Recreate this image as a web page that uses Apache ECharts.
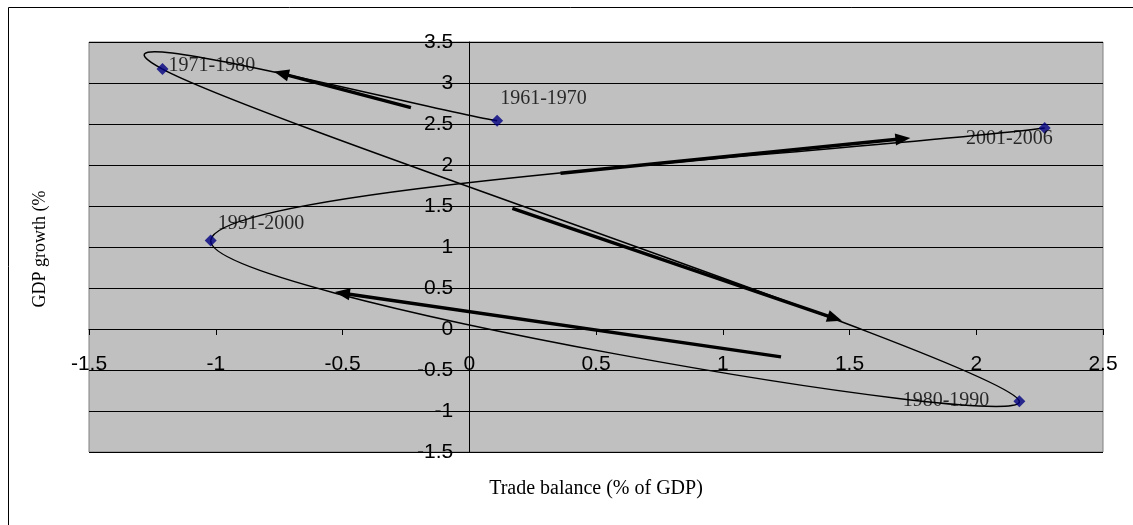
<!DOCTYPE html>
<html>
<head>
<meta charset="utf-8">
<script src="https://cdn.jsdelivr.net/npm/echarts@6/dist/echarts.min.js"></script>
<style>
  html, body { margin: 0; padding: 0; background: #fff; }
  #chart { width: 1133px; height: 525px; }
</style>
</head>
<body>
<div id="chart"></div>
<script>
// Decade averages: trade balance (% of GDP) against GDP growth (%)
const periods = ['1961-1970', '1971-1980', '1980-1990', '1991-2000', '2001-2006'];
const tradeBalance = [0.11, -1.21, 2.17, -1.02, 2.27];
const gdpGrowth = [2.54, 3.17, -0.88, 1.08, 2.45];

// Direction arrows drawn along the path (tail -> head), in axis units
const arrowTailX = [-0.23, 0.36, 0.17, 1.23];
const arrowTailY = [2.70, 1.90, 1.47, -0.34];
const arrowHeadX = [-0.77, 1.74, 1.47, -0.53];
const arrowHeadY = [3.14, 2.33, 0.10, 0.45];

// Axis ticks
const xTicks = [-1.5, -1, -0.5, 0, 0.5, 1, 1.5, 2, 2.5];
const yTicks = [-1.5, -1, -0.5, 0, 0.5, 1, 1.5, 2, 2.5, 3, 3.5];

// Where each period label sits relative to its marker
const labelSide = ['right', 'right', 'left', 'right', 'left'];
const labelShift = [[-8, -22], [-5, -3], [-19, 0], [-4, -17], [19, 11]];

const SERIF = "'Liberation Serif', 'Times New Roman', serif";
const SANS = "'Liberation Sans', Arial, sans-serif";
const TENSION = 0.2;

const W = 1133, H = 525;
const GRID = { left: 89, right: 30, top: 42, bottom: 73 };
const xMin = xTicks[0], xMax = xTicks[xTicks.length - 1];
const yMin = yTicks[0], yMax = yTicks[yTicks.length - 1];
// Both axes cross at zero, so shift each axis (line, ticks and labels) onto the other's zero
const gridW = W - GRID.left - GRID.right;
const gridH = H - GRID.top - GRID.bottom;
const xAxisShift = -gridH * (0 - yMin) / (yMax - yMin);
const yAxisShift = -gridW * (0 - xMin) / (xMax - xMin);

const points = tradeBalance.map((x, i) => [x, gdpGrowth[i]]);
const arrows = arrowTailX.map((x, i) => [x, arrowTailY[i], arrowHeadX[i], arrowHeadY[i]]);

// Smoothed path through the decades in order (cubic Bezier segments)
function renderCurve(params, api) {
  const i = params.dataIndex;
  const n = points.length;
  if (i >= n - 1) return null;
  const pt = k => api.coord(points[Math.max(0, Math.min(n - 1, k))]);
  const p0 = pt(i - 1), p1 = pt(i), p2 = pt(i + 1), p3 = pt(i + 2);
  return {
    type: 'bezierCurve',
    shape: {
      x1: p1[0], y1: p1[1], x2: p2[0], y2: p2[1],
      cpx1: p1[0] + (p2[0] - p0[0]) * TENSION,
      cpy1: p1[1] + (p2[1] - p0[1]) * TENSION,
      cpx2: p2[0] - (p3[0] - p1[0]) * TENSION,
      cpy2: p2[1] - (p3[1] - p1[1]) * TENSION
    },
    style: { stroke: '#000', fill: 'none', lineWidth: 1.5 }
  };
}

// Thick arrow with a solid triangular head
function renderArrow(params, api) {
  const a = api.coord([api.value(0), api.value(1)]);
  const b = api.coord([api.value(2), api.value(3)]);
  const dx = b[0] - a[0], dy = b[1] - a[1];
  const len = Math.hypot(dx, dy);
  const ux = dx / len, uy = dy / len;
  const HEAD = 15, HALF = 6;
  const bx = b[0] - ux * HEAD, by = b[1] - uy * HEAD;
  return {
    type: 'group',
    children: [
      {
        type: 'line',
        shape: { x1: a[0], y1: a[1], x2: bx + ux * 2, y2: by + uy * 2 },
        style: { stroke: '#000', lineWidth: 3.4 }
      },
      {
        type: 'polygon',
        shape: { points: [[b[0], b[1]], [bx - uy * HALF, by + ux * HALF], [bx + uy * HALF, by - ux * HALF]] },
        style: { fill: '#000' }
      }
    ]
  };
}

const chart = echarts.init(document.getElementById('chart'), null, { renderer: 'canvas' });

chart.setOption({
  animation: false,
  backgroundColor: '#fff',
  grid: Object.assign({
    show: true, backgroundColor: '#c0c0c0', borderColor: '#808080', borderWidth: 1
  }, GRID),
  xAxis: {
    type: 'value',
    min: xMin, max: xMax, interval: xTicks[1] - xTicks[0],
    offset: xAxisShift,
    axisLine: { onZero: false, lineStyle: { color: '#000', width: 1 } },
    axisTick: { show: true, inside: false, length: 6, lineStyle: { color: '#000' } },
    axisLabel: { color: '#000', fontFamily: SANS, fontSize: 21, margin: 25 },
    splitLine: { show: false }
  },
  yAxis: {
    type: 'value',
    min: yMin, max: yMax, interval: yTicks[1] - yTicks[0],
    offset: yAxisShift,
    axisLine: { onZero: false, lineStyle: { color: '#000', width: 1 } },
    axisTick: { show: true, inside: false, length: 6, lineStyle: { color: '#000' } },
    axisLabel: { color: '#000', fontFamily: SANS, fontSize: 21, margin: 16 },
    splitLine: { show: true, lineStyle: { color: '#000', width: 1 } }
  },
  graphic: [
    { type: 'line', shape: { x1: 8.5, y1: 7.5, x2: W, y2: 7.5 }, style: { stroke: '#000', lineWidth: 1 } },
    { type: 'line', shape: { x1: 8.5, y1: 7.5, x2: 8.5, y2: H }, style: { stroke: '#000', lineWidth: 1 } },
    {
      type: 'text', x: 596, y: 489,
      style: { text: 'Trade balance (% of GDP)', font: '20px ' + SERIF, fill: '#000', align: 'center', verticalAlign: 'middle' }
    },
    {
      type: 'text', x: 40, y: 249, rotation: Math.PI / 2,
      style: { text: 'GDP growth (%', font: '18px ' + SERIF, fill: '#000', align: 'center', verticalAlign: 'middle' }
    }
  ],
  series: [
    {
      type: 'custom',
      name: 'path',
      renderItem: renderCurve,
      data: points,
      encode: { x: 0, y: 1 },
      z: 3,
      silent: true
    },
    {
      type: 'custom',
      name: 'arrows',
      renderItem: renderArrow,
      data: arrows,
      encode: { x: [0, 2], y: [1, 3] },
      z: 4,
      silent: true
    },
    {
      type: 'scatter',
      name: 'decades',
      symbol: 'diamond',
      symbolSize: 12,
      itemStyle: { color: '#000080' },
      z: 5,
      data: points.map((p, i) => ({
        value: p,
        name: periods[i],
        label: {
          show: true,
          position: labelSide[i],
          offset: labelShift[i],
          formatter: '{b}',
          color: '#000',
          fontFamily: SERIF,
          fontSize: 20
        }
      }))
    }
  ]
});
</script>
</body>
</html>
